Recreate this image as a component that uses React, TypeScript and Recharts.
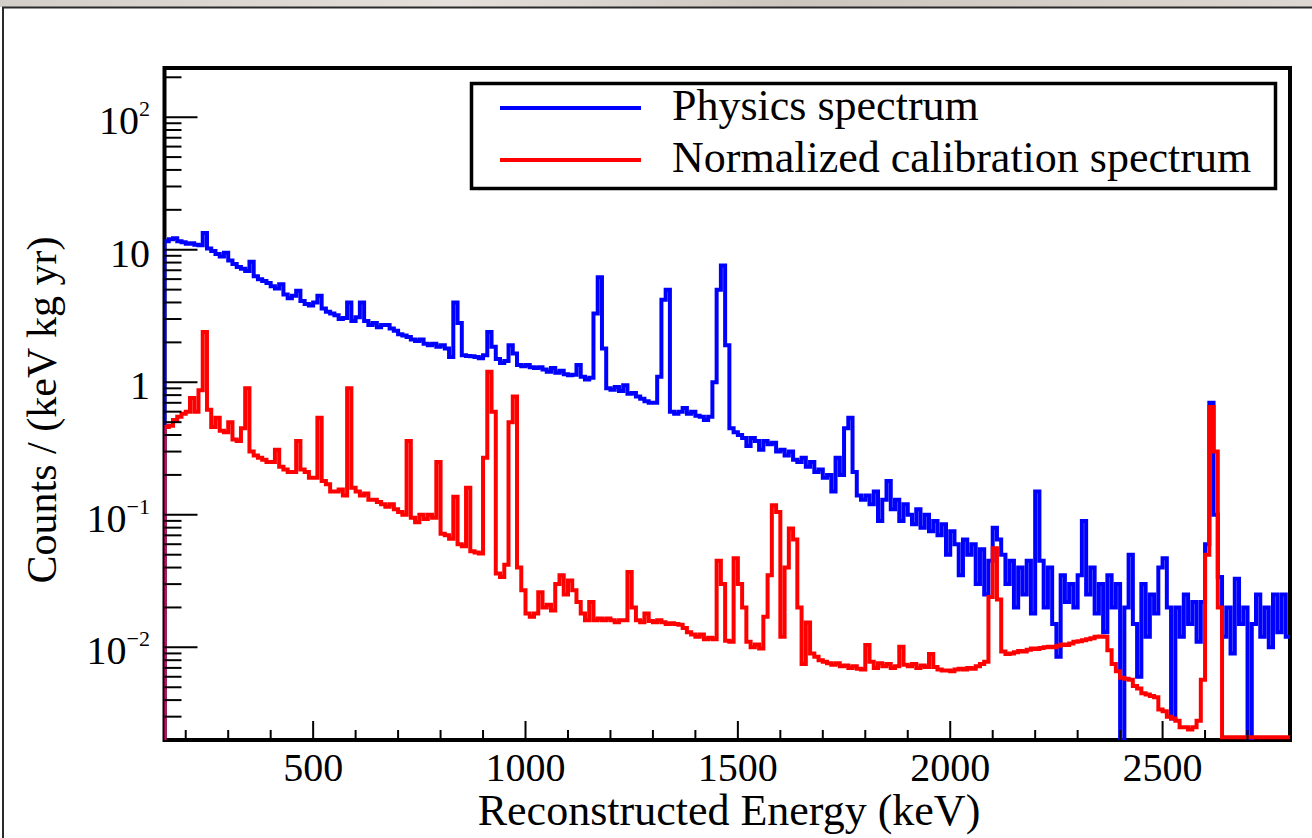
import { LineChart, Line, XAxis, YAxis } from "recharts";

/**
 * Energy spectra: physics data vs. normalized calibration, log-scale counts
 */

const SERIF = "'Liberation Serif', 'Times New Roman', serif";

// Histogram binning in keV
const BIN_START = 150;
const BIN_WIDTH = 10;
const E_MAX = 2800;

// Empty bins: EMPTY falls below the frame, FLOOR rests on it
const EMPTY = 0.001;
const FLOOR = 0.0021;

// Counts / (keV kg yr), one row per 100 keV starting at 150 keV
const physicsCounts = [
  11.6, 12.0, 12.2, 11.6, 11.4, 11.1, 11.2, 10.9, 10.8, 13.4,
  10.2, 9.8, 9.3, 8.9, 9.5, 8.3, 7.8, 7.4, 7.2, 6.9,
  8.1, 6.3, 6.0, 5.8, 5.6, 5.3, 5.1, 5.5, 4.6, 4.3,
  4.5, 4.9, 4.1, 3.9, 3.8, 4.0, 4.5, 3.6, 3.4, 3.3,
  3.2, 3.0, 3.05, 4.0, 2.9, 3.1, 4.0, 2.9, 2.7, 2.8,
  2.6, 2.7, 2.7, 2.55, 2.45, 2.3, 2.25, 2.2, 2.1, 2.05,
  2.1, 1.95, 1.9, 1.95, 1.85, 1.9, 1.8, 1.55, 4.0, 2.8,
  1.6, 1.58, 1.57, 1.55, 1.52, 1.6, 2.4, 1.85, 1.5, 1.4,
  1.45, 1.9, 1.65, 1.35, 1.32, 1.35, 1.3, 1.28, 1.3, 1.25,
  1.2, 1.28, 1.18, 1.22, 1.15, 1.13, 1.14, 1.35, 1.1, 1.05,
  1.08, 3.3, 6.2, 1.8, 0.9, 0.88, 0.92, 0.86, 0.95, 0.82,
  0.83, 0.78, 0.75, 0.72, 0.7, 0.7, 1.1, 4.2, 5.0, 0.6,
  0.58, 0.6, 0.64, 0.58, 0.6, 0.56, 0.55, 0.52, 0.55, 1.0,
  5.0, 7.6, 1.9, 0.45, 0.42, 0.4, 0.38, 0.33, 0.38, 0.36,
  0.31, 0.36, 0.34, 0.35, 0.3, 0.31, 0.28, 0.3, 0.26, 0.25,
  0.27, 0.23, 0.25, 0.21, 0.22, 0.19, 0.2, 0.15, 0.27, 0.2,
  0.45, 0.54, 0.21, 0.14, 0.13, 0.14, 0.12, 0.15, 0.09, 0.13,
  0.18, 0.11, 0.13, 0.09, 0.12, 0.1, 0.085, 0.11, 0.08, 0.1,
  0.075, 0.09, 0.07, 0.085, 0.05, 0.075, 0.06, 0.035, 0.065, 0.05,
  0.06, 0.03, 0.055, 0.025, 0.045, 0.08, 0.065, 0.05, 0.03, 0.045,
  0.02, 0.04, 0.025, 0.045, 0.018, 0.15, 0.045, 0.02, 0.04, 0.015,
  0.0085, 0.035, 0.022, 0.03, 0.02, 0.035, 0.09, 0.025, 0.04, 0.018,
  0.03, 0.013, 0.035, 0.02, 0.03, EMPTY, 0.02, 0.05, 0.015, 0.006,
  0.03, 0.012, 0.025, 0.018, 0.04, 0.047, 0.02, 0.0029, 0.02, 0.012,
  0.025, 0.015, 0.022, 0.011, 0.022, 0.06, 0.7, 0.1, 0.034, 0.012,
  0.02, 0.009, 0.033, 0.015, 0.02, EMPTY, 0.015, 0.025, 0.012, 0.02,
  0.01, 0.025, 0.013, 0.025, 0.012,
];

const calibrationCounts = [
  0.46, 0.47, 0.52, 0.55, 0.58, 0.6, 0.76, 0.6, 0.87, 2.4,
  0.62, 0.46, 0.54, 0.43, 0.42, 0.5, 0.37, 0.36, 0.45, 0.9,
  0.3, 0.28, 0.27, 0.26, 0.25, 0.25, 0.31, 0.23, 0.22, 0.21,
  0.21, 0.36, 0.22, 0.21, 0.19, 0.19, 0.54, 0.18, 0.17, 0.15,
  0.15, 0.155, 0.14, 0.9, 0.16, 0.15, 0.14, 0.145, 0.13, 0.13,
  0.125, 0.12, 0.115, 0.12, 0.11, 0.105, 0.1, 0.36, 0.095, 0.088,
  0.1, 0.093, 0.1, 0.095, 0.25, 0.072, 0.07, 0.066, 0.137, 0.06,
  0.058, 0.16, 0.053, 0.052, 0.051, 0.27, 1.2, 0.6, 0.036, 0.034,
  0.042, 0.5, 0.78, 0.04, 0.027, 0.018, 0.017, 0.018, 0.026, 0.02,
  0.021, 0.019, 0.03, 0.035, 0.025, 0.032, 0.027, 0.022, 0.018, 0.016,
  0.022, 0.016, 0.0165, 0.016, 0.0165, 0.016, 0.0155, 0.016, 0.016, 0.037,
  0.02, 0.016, 0.0155, 0.018, 0.0158, 0.0155, 0.016, 0.0155, 0.015, 0.0152,
  0.015, 0.0148, 0.014, 0.013, 0.0125, 0.012, 0.0125, 0.0115, 0.0118, 0.0115,
  0.045, 0.03, 0.0112, 0.011, 0.047, 0.03, 0.02, 0.011, 0.01, 0.0105,
  0.0098, 0.017, 0.035, 0.118, 0.105, 0.012, 0.04, 0.079, 0.065, 0.02,
  0.0075, 0.0154, 0.009, 0.0085, 0.008, 0.0078, 0.0076, 0.0074, 0.0076, 0.0072,
  0.0073, 0.007, 0.0072, 0.0069, 0.0068, 0.0104, 0.0078, 0.007, 0.0076, 0.0072,
  0.0075, 0.007, 0.0072, 0.0101, 0.0074, 0.0072, 0.0075, 0.007, 0.0073, 0.0071,
  0.0089, 0.0071, 0.0068, 0.0067, 0.0067, 0.0066, 0.0068, 0.0069, 0.0068, 0.007,
  0.0069, 0.0072, 0.0075, 0.0078, 0.024, 0.056, 0.023, 0.0093, 0.0089, 0.009,
  0.0092, 0.0094, 0.0093, 0.0096, 0.0098, 0.0097, 0.0099, 0.01, 0.0101, 0.01,
  0.0103, 0.0105, 0.0104, 0.0107, 0.011, 0.0111, 0.0113, 0.0115, 0.0117, 0.012,
  0.0121, 0.012, 0.0095, 0.0075, 0.0066, 0.0059, 0.0058, 0.0057, 0.0051, 0.0049,
  0.0045, 0.0044, 0.0043, 0.0042, 0.0034, 0.0033, 0.003, 0.0029, 0.0028, 0.0025,
  0.0025, 0.0024, 0.0025, 0.0028, 0.0057, 0.05, 0.65, 0.3, 0.02, FLOOR,
  FLOOR, FLOOR, FLOOR, FLOOR, FLOOR, FLOOR, FLOOR, FLOOR, FLOOR, FLOOR,
  FLOOR, FLOOR, FLOOR, FLOOR, FLOOR,
];

// Axis ticks
const xTicks = [
  200, 300, 400, 500, 600, 700, 800, 900, 1000, 1100, 1200, 1300, 1400,
  1500, 1600, 1700, 1800, 1900, 2000, 2100, 2200, 2300, 2400, 2500, 2600, 2700,
];
const xMajorTicks = [500, 1000, 1500, 2000, 2500];

const yTicks = [
  0.003, 0.004, 0.005, 0.006, 0.007, 0.008, 0.009,
  0.01, 0.02, 0.03, 0.04, 0.05, 0.06, 0.07, 0.08, 0.09,
  0.1, 0.2, 0.3, 0.4, 0.5, 0.6, 0.7, 0.8, 0.9,
  1, 2, 3, 4, 5, 6, 7, 8, 9,
  10, 20, 30, 40, 50, 60, 70, 80, 90,
  100, 200,
];
const yMajorTicks = [0.01, 0.1, 1, 10, 100];
const yMajorBase = ["10", "10", "1", "10", "10"];
const yMajorExp = ["\u22122", "\u22121", "", "", "2"];

const Y_MIN = 0.002;
const Y_MAX = 235;

// Turn bin contents into step points (low edge, value), opening from the floor
function toSteps(counts: number[]) {
  const pts = [{ e: BIN_START, v: EMPTY }];
  counts.forEach((v, i) => pts.push({ e: BIN_START + i * BIN_WIDTH, v }));
  pts.push({ e: E_MAX, v: counts[counts.length - 1] });
  return pts;
}

const physicsData = toSteps(physicsCounts);
const calibrationData = toSteps(calibrationCounts);

// Plot frame in page pixels
const PLOT = { left: 164.5, top: 68, right: 1290, bottom: 740 };

function EnergyTick({ x, y, payload }: any) {
  const major = xMajorTicks.includes(payload.value);
  return (
    <g>
      <line x1={x} x2={x} y1={y} y2={y - (major ? 19 : 10)} stroke="#000" strokeWidth={2} />
      {major && (
        <text x={x} y={y + 41} textAnchor="middle" fontSize={40} fontFamily={SERIF} fill="#000">
          {payload.value}
        </text>
      )}
    </g>
  );
}

function CountTick({ x, y, payload }: any) {
  const idx = yMajorTicks.indexOf(payload.value);
  const major = idx >= 0;
  return (
    <g>
      <line x1={x} x2={x + (major ? 33 : 17)} y1={y} y2={y} stroke="#000" strokeWidth={2} />
      {major && (
        <text x={x - 14.5} y={y + 17} textAnchor="end" fontSize={40} fontFamily={SERIF} fill="#000">
          <tspan>{yMajorBase[idx]}</tspan>
          {yMajorExp[idx] && (
            <tspan dy={-18} fontSize={22}>
              {yMajorExp[idx]}
            </tspan>
          )}
        </text>
      )}
    </g>
  );
}

export default function App() {
  return (
    <div
      style={{
        position: "absolute",
        left: 0,
        top: 0,
        width: 1312,
        height: 838,
        background: "#ffffff",
        overflow: "hidden",
      }}
    >
      {/* page edge, frame and axis titles */}
      <svg width={1312} height={838} style={{ position: "absolute", left: 0, top: 0 }}>
        <defs>
          <linearGradient id="band" x1="0" x2="1" y1="0" y2="0">
            <stop offset="0" stopColor="#d4cec8" />
            <stop offset="0.35" stopColor="#e4dfda" />
            <stop offset="0.6" stopColor="#cdc6bf" />
            <stop offset="1" stopColor="#ddd7d1" />
          </linearGradient>
        </defs>
        <rect x={0} y={0} width={1312} height={7} fill="url(#band)" />
        <path d="M3 838 V7.5 H1312" fill="none" stroke="#2a2a2a" strokeWidth={2} />
        <rect
          x={PLOT.left}
          y={PLOT.top}
          width={PLOT.right - PLOT.left}
          height={PLOT.bottom - PLOT.top}
          fill="none"
          stroke="#000"
          strokeWidth={4}
        />
        <text x={729} y={825} textAnchor="middle" fontSize={44} fontFamily={SERIF} fill="#000">
          Reconstructed Energy (keV)
        </text>
        <text
          transform="rotate(-90)"
          x={-410}
          y={56}
          textAnchor="middle"
          fontSize={42}
          fontFamily={SERIF}
          fill="#000"
        >
          Counts / (keV kg yr)
        </text>
      </svg>

      <div style={{ position: "absolute", left: 0, top: 0 }}>
        <LineChart
          width={1312}
          height={838}
          margin={{ top: PLOT.top, right: 1312 - PLOT.right, bottom: 0, left: 0.5 }}
        >
          <XAxis
            type="number"
            dataKey="e"
            domain={[BIN_START, E_MAX]}
            allowDataOverflow
            ticks={xTicks}
            interval={0}
            height={838 - PLOT.bottom}
            axisLine={false}
            tickLine={false}
            tickSize={0}
            tickMargin={0}
            tick={(p: any) => <EnergyTick {...p} />}
          />
          <YAxis
            type="number"
            scale="log"
            domain={[Y_MIN, Y_MAX]}
            allowDataOverflow
            ticks={yTicks}
            interval={0}
            width={164}
            axisLine={false}
            tickLine={false}
            tickSize={0}
            tickMargin={0}
            tick={(p: any) => <CountTick {...p} />}
          />
          <Line
            data={physicsData}
            dataKey="v"
            type="stepAfter"
            stroke="#0000ff"
            strokeWidth={4}
            dot={false}
            activeDot={false}
            isAnimationActive={false}
          />
          <Line
            data={calibrationData}
            dataKey="v"
            type="stepAfter"
            stroke="#ff0000"
            strokeWidth={4}
            dot={false}
            activeDot={false}
            isAnimationActive={false}
          />
        </LineChart>
      </div>

      {/* legend box */}
      <svg width={1312} height={838} style={{ position: "absolute", left: 0, top: 0, pointerEvents: "none" }}>
        <rect x={471.5} y={83.5} width={804} height={105} fill="#fff" stroke="#000" strokeWidth={3.5} />
        <line x1={500} x2={641} y1={108} y2={108} stroke="#0000ff" strokeWidth={4} />
        <line x1={500} x2={641} y1={160} y2={160} stroke="#ff0000" strokeWidth={4} />
        <text x={672} y={120} fontSize={44} fontFamily={SERIF} fill="#000">
          Physics spectrum
        </text>
        <text x={672} y={172} fontSize={44} fontFamily={SERIF} fill="#000">
          Normalized calibration spectrum
        </text>
      </svg>
    </div>
  );
}
